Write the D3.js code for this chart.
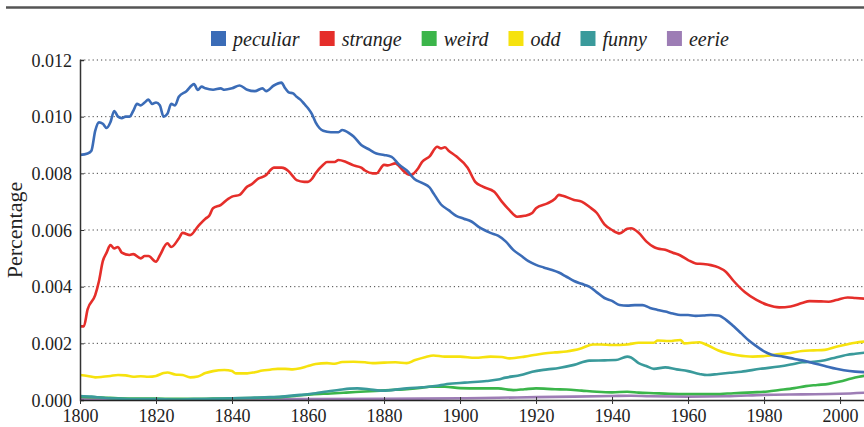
<!DOCTYPE html>
<html>
<head>
<meta charset="utf-8">
<script src="https://cdn.jsdelivr.net/npm/d3@7"></script>
<style>
  body { margin: 0; background: #fff; }
  svg { display: block; }
  .tick text { font-family: "Liberation Serif", serif; font-size: 18px; fill: #222; }
  .legend text { font-family: "Liberation Serif", serif; font-style: italic; font-size: 20px; fill: #222; }
</style>
</head>
<body>
<svg id="chart" width="864" height="427"></svg>
<script>
const seriesNames = ["peculiar", "strange", "weird", "odd", "funny", "eerie"]
const seriesColors = ["#3b6cb7", "#e52e2a", "#3bb54a", "#f6e20e", "#3a9a9b", "#9d7db5"]

const yTicks = [0, 0.002, 0.004, 0.006, 0.008, 0.010, 0.012]
const xTicks = [1800, 1820, 1840, 1860, 1880, 1900, 1920, 1940, 1960, 1980, 2000]

// [year, percentage]
const peculiar = [[1800,.00865],[1802,.0087],[1803,.0088],[1804,.0095],[1805,.0098],[1806,.00975],[1807,.0096],[1808,.0098],[1809,.0102],[1810,.0100],[1811,.00995],[1812,.0100],[1813,.0100],[1814,.0102],[1815,.01045],[1816,.0104],[1817,.0105],[1818,.0106],[1819,.01045],[1820,.0105],[1821,.0104],[1822,.0100],[1823,.0101],[1824,.01045],[1825,.0104],[1826,.0107],[1828,.0109],[1830,.01115],[1831,.01094],[1832,.01106],[1833,.0110],[1835,.01095],[1837,.0110],[1838,.01095],[1840,.0110],[1842,.0111],[1844,.01095],[1846,.0109],[1848,.0110],[1849,.0109],[1851,.0111],[1853,.0112],[1854,.0110],[1855,.01085],[1856,.01083],[1857,.0107],[1858,.0106],[1859,.01045],[1860,.0103],[1861,.0101],[1862,.0098],[1863,.0096],[1864,.0095],[1866,.00945],[1868,.00945],[1869,.00953],[1871,.0094],[1872,.0093],[1874,.0090],[1876,.00885],[1878,.0087],[1880,.00865],[1882,.00858],[1884,.0083],[1886,.0081],[1888,.0078],[1890,.00766],[1892,.0075],[1893,.0073],[1895,.0069],[1897,.0067],[1899,.0065],[1901,.0064],[1903,.0063],[1905,.0061],[1908,.0059],[1910,.0058],[1912,.0056],[1914,.0053],[1916,.0051],[1918,.0049],[1920,.00477],[1922,.00468],[1924,.0046],[1926,.0045],[1928,.00435],[1930,.0042],[1932,.0041],[1934,.004],[1936,.0038],[1938,.0036],[1940,.0035],[1942,.00335],[1944,.00333],[1946,.00335],[1948,.00335],[1950,.00325],[1952,.00318],[1954,.00312],[1956,.00305],[1958,.003],[1960,.003],[1962,.00297],[1964,.00298],[1966,.003],[1968,.00298],[1970,.00283],[1972,.0026],[1974,.00235],[1976,.0021],[1978,.0019],[1980,.00172],[1982,.0016],[1985,.00153],[1988,.00145],[1990,.0014],[1993,.0013],[1996,.0012],[1999,.0011],[2001,.00105],[2004,.001],[2007,.00098]]

const strange = [[1800,.0026],[1801,.0026],[1802,.0032],[1804,.0037],[1805,.0042],[1806,.0049],[1807,.0052],[1808,.00547],[1809,.00535],[1810,.0054],[1811,.0052],[1813,.00512],[1814,.00515],[1816,.005],[1817,.00508],[1818,.00508],[1820,.00488],[1821,.0051],[1823,.00553],[1824,.0054],[1826,.0057],[1827,.0059],[1829,.00582],[1831,.00612],[1833,.0064],[1834,.0065],[1835,.00677],[1837,.00688],[1839,.0071],[1840,.00718],[1842,.00724],[1844,.00753],[1845,.0076],[1847,.00782],[1849,.00794],[1850,.0081],[1851,.0082],[1853,.0082],[1855,.00806],[1856,.0079],[1857,.00776],[1859,.0077],[1860,.0077],[1861,.0078],[1862,.008],[1864,.0083],[1865,.0084],[1867,.0084],[1868,.00847],[1870,.0084],[1872,.00828],[1874,.0082],[1875,.0081],[1877,.008],[1878,.008],[1880,.0083],[1881,.00828],[1883,.00835],[1884,.00825],[1885,.0081],[1887,.00794],[1889,.00818],[1890,.0084],[1892,.0086],[1894,.00894],[1895,.00888],[1896,.00892],[1897,.0088],[1899,.0086],[1902,.0082],[1904,.0077],[1906,.00753],[1909,.00735],[1911,.007],[1913,.0067],[1915,.00647],[1917,.0065],[1919,.0066],[1920,.00677],[1923,.00694],[1925,.0071],[1926,.00724],[1927,.00721],[1930,.00706],[1932,.007],[1934,.00682],[1936,.0066],[1938,.0062],[1940,.006],[1942,.00588],[1944,.00604],[1945,.00606],[1947,.0059],[1949,.0056],[1951,.0054],[1952,.00535],[1954,.0053],[1956,.0052],[1958,.0051],[1960,.00494],[1962,.00482],[1964,.0048],[1966,.00476],[1968,.00468],[1970,.00452],[1972,.0042],[1975,.0038],[1978,.00353],[1981,.00335],[1984,.00327],[1987,.0033],[1990,.00342],[1992,.00349],[1995,.00348],[1997,.00347],[1999,.00353],[2002,.00362],[2004,.0036],[2007,.00357]]

const weird = [[1800,.00012],[1803,.0001],[1806,.00009],[1810,.00006],[1815,.00005],[1820,.00005],[1825,.00004],[1830,.00004],[1835,.00005],[1840,.00006],[1845,.00007],[1850,.00009],[1853,.0001],[1857,.00015],[1861,.0002],[1866,.00023],[1870,.00026],[1875,.0003],[1879,.00033],[1883,.00036],[1886,.00038],[1890,.00043],[1892,.00047],[1896,.00047],[1900,.00042],[1905,.00041],[1910,.00041],[1914,.00035],[1917,.00038],[1920,.00041],[1925,.00038],[1928,.00037],[1932,.00033],[1936,.00029],[1940,.00027],[1944,.00029],[1947,.00026],[1951,.00024],[1955,.00022],[1960,.00021],[1967,.00021],[1972,.00024],[1977,.00027],[1981,.0003],[1984,.00035],[1988,.00042],[1991,.00049],[1994,.00053],[1997,.00057],[2000,.00065],[2003,.00076],[2005,.00082],[2007,.00087]]

const odd = [[1800,.00088],[1802,.00085],[1804,.0008],[1806,.00082],[1808,.00085],[1810,.00088],[1812,.00087],[1814,.00082],[1816,.00084],[1818,.00082],[1820,.00085],[1822,.00095],[1823,.00097],[1825,.0009],[1827,.00088],[1829,.0008],[1831,.00083],[1833,.00095],[1835,.00102],[1838,.00106],[1840,.00102],[1841,.00094],[1844,.00094],[1846,.00098],[1848,.00104],[1850,.00107],[1852,.0011],[1854,.0011],[1856,.00108],[1858,.00112],[1860,.0012],[1862,.00127],[1865,.0013],[1867,.00128],[1869,.00134],[1872,.00135],[1875,.00133],[1877,.0013],[1880,.00132],[1883,.00133],[1886,.0013],[1888,.0014],[1891,.00152],[1893,.00157],[1896,.00153],[1900,.00153],[1904,.00149],[1908,.00153],[1911,.00152],[1913,.00147],[1917,.00153],[1920,.0016],[1922,.00164],[1925,.00168],[1928,.00171],[1930,.00176],[1932,.00183],[1935,.00196],[1937,.00196],[1940,.00194],[1944,.00196],[1947,.00202],[1951,.00202],[1952,.0021],[1955,.00208],[1958,.00212],[1959,.002],[1963,.00204],[1965,.00194],[1968,.00175],[1970,.00166],[1973,.00158],[1977,.00153],[1981,.00156],[1984,.00162],[1987,.00166],[1990,.00173],[1993,.00175],[1996,.00177],[1999,.00188],[2002,.00197],[2004,.00202],[2007,.00207]]

const funny = [[1800,.00014],[1803,.00012],[1806,.00008],[1810,.00005],[1815,.00003],[1820,.00003],[1825,.00002],[1830,.00003],[1835,.00004],[1840,.00006],[1845,.00008],[1850,.0001],[1853,.00012],[1858,.00018],[1862,.00024],[1865,.0003],[1868,.00035],[1871,.0004],[1873,.00041],[1876,.00038],[1879,.00033],[1882,.00035],[1886,.00041],[1890,.00045],[1894,.0005],[1896,.00055],[1900,.0006],[1902,.00062],[1907,.00067],[1910,.00072],[1912,.00079],[1916,.00088],[1919,.001],[1923,.00108],[1926,.00113],[1930,.00124],[1934,.00139],[1938,.0014],[1941,.00141],[1944,.00153],[1945,.0015],[1947,.0013],[1949,.0012],[1951,.0011],[1954,.00115],[1957,.00108],[1960,.00102],[1963,.00092],[1965,.00088],[1968,.00092],[1971,.00096],[1974,.001],[1979,.0011],[1984,.00118],[1987,.00125],[1990,.00133],[1993,.00135],[1996,.0014],[1998,.00147],[2002,.0016],[2004,.00163],[2007,.00168]]

const eerie = [[1800,.00003],[1820,.00002],[1840,.00003],[1860,.00003],[1880,.00004],[1900,.00006],[1910,.00008],[1920,.0001],[1930,.00012],[1940,.00014],[1945,.00015],[1950,.00013],[1960,.00012],[1970,.00013],[1980,.00018],[1990,.0002],[2000,.00022],[2007,.00026]]

const seriesData = [peculiar, strange, weird, odd, funny, eerie]

const svg = d3.select("#chart")
const plotLeft = 80, plotRight = 864, plotTop = 60, plotBottom = 400

const x = d3.scaleLinear().domain([1800, 2006.3]).range([plotLeft, plotRight])
const y = d3.scaleLinear().domain([0, 0.012]).range([plotBottom, plotTop])

// top rule
svg.append("line")
  .attr("x1", 6).attr("x2", 864)
  .attr("y1", 7.5).attr("y2", 7.5)
  .attr("stroke", "#555").attr("stroke-width", 2.5)

// dotted grid
svg.append("g")
  .selectAll("line")
  .data(yTicks.filter(d => d > 0))
  .enter()
  .append("line")
  .attr("x1", plotLeft).attr("x2", plotRight)
  .attr("y1", d => y(d)).attr("y2", d => y(d))
  .attr("stroke", "#444")
  .attr("stroke-dasharray", "1.2,3")

svg.append("clipPath").attr("id", "plot")
  .append("rect")
  .attr("x", plotLeft).attr("y", 0)
  .attr("width", plotRight - plotLeft).attr("height", plotBottom + 2)

const line = d3.line()
  .x(d => x(d[0]))
  .y(d => y(d[1]))
  .curve(d3.curveMonotoneX)

// draw back to front so peculiar ends up on top
const order = [5, 2, 4, 3, 1, 0]
svg.append("g")
  .attr("clip-path", "url(#plot)")
  .selectAll("path")
  .data(order)
  .enter()
  .append("path")
  .attr("d", i => line(seriesData[i]))
  .attr("fill", "none")
  .attr("stroke", i => seriesColors[i])
  .attr("stroke-width", 2.6)
  .attr("stroke-linejoin", "round")

// axes
const yAxis = svg.append("g")
  .attr("transform", "translate(" + plotLeft + ",0)")
  .call(d3.axisLeft(y).tickValues(yTicks).tickFormat(d3.format(".3f")).tickSize(-4).tickPadding(8))
yAxis.select(".domain").attr("stroke", "#333").attr("stroke-width", 1.5)
yAxis.selectAll(".tick line").attr("stroke", "#333")
yAxis.selectAll(".tick text").attr("dy", "0.35em")

const xAxis = svg.append("g")
  .attr("transform", "translate(0," + plotBottom + ")")
  .call(d3.axisBottom(x).tickValues(xTicks).tickFormat(d3.format("d")).tickSize(4).tickSizeOuter(0).tickPadding(5))
xAxis.select(".domain").attr("stroke", "#222").attr("stroke-width", 1.6)
xAxis.selectAll(".tick line").attr("y1", -3).attr("stroke", "#333")
xAxis.selectAll(".tick text").attr("dy", "0.71em")

// y label
svg.append("text")
  .attr("transform", "translate(22,230) rotate(-90)")
  .attr("text-anchor", "middle")
  .attr("font-family", "Liberation Serif, serif")
  .attr("font-size", 22)
  .attr("fill", "#222")
  .text("Percentage")

// legend
const legend = svg.append("g").attr("class", "legend")
let lx = 211
seriesNames.forEach((name, i) => {
  legend.append("rect")
    .attr("x", lx).attr("y", 31)
    .attr("width", 15).attr("height", 15)
    .attr("fill", seriesColors[i])
  const t = legend.append("text")
    .attr("x", lx + 22).attr("y", 46)
    .text(name)
  lx += 22 + t.node().getComputedTextLength() + 20
})
</script>
</body>
</html>
